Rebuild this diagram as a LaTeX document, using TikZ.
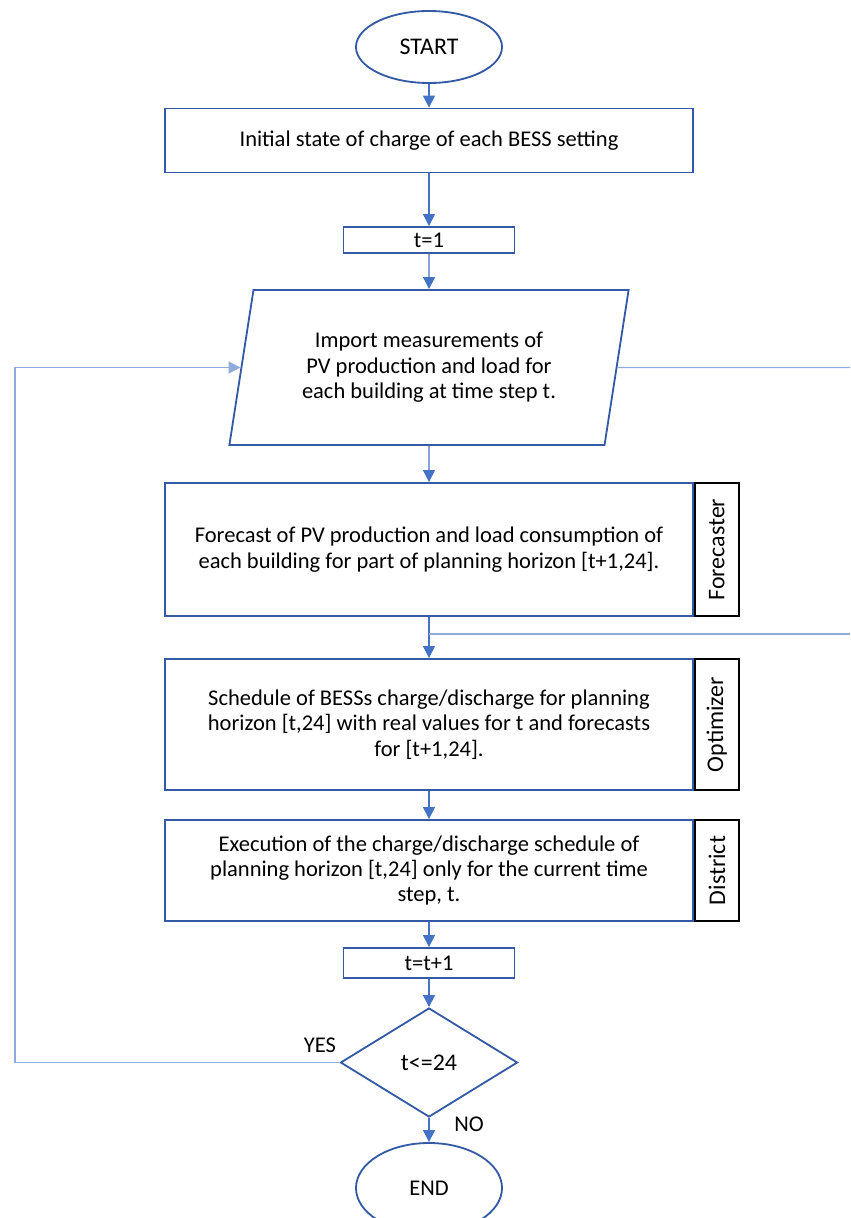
\documentclass[tikz,border=0pt]{standalone}
\usepackage{fontspec}
\setmainfont{Carlito}
\usetikzlibrary{shapes.geometric,arrows.meta}

\definecolor{shapeblue}{RGB}{52,90,165}
\definecolor{linkblue}{RGB}{68,114,196}
\definecolor{loopblue}{RGB}{143,170,220}

\begin{document}
\begin{tikzpicture}[
x=0.025cm, y=-0.025cm,
font=\fontsize{16}{18}\selectfont,
terminal/.style={ellipse, draw=shapeblue, line width=1.3pt, minimum width=3.65cm, minimum height=1.8cm, inner sep=0pt, font=\fontsize{17}{19}\selectfont},
process/.style={rectangle, draw=shapeblue, line width=1.3pt, minimum width=13.2cm, inner sep=0pt, align=center},
counter/.style={rectangle, draw=shapeblue, line width=1.3pt, minimum width=4.275cm, inner sep=0pt},
iobox/.style={trapezium, trapezium left angle=76, trapezium right angle=104, trapezium stretches=true, draw=shapeblue, line width=1.3pt, minimum width=9.98cm, minimum height=3.875cm, inner sep=0pt, align=center},
decision/.style={diamond, draw=shapeblue, line width=1.3pt, minimum width=4.425cm, minimum height=2.725cm, inner sep=0pt, font=\fontsize{17}{19}\selectfont},
tag/.style={rectangle, draw=black, line width=1.3pt, rotate=90, inner sep=0pt, minimum width=#1, minimum height=1.1cm, font=\fontsize{17}{19}\selectfont},
link/.style={draw=linkblue, line width=0.9pt, -{Triangle[length=8.5pt,width=8.5pt]}},
back/.style={draw=loopblue, line width=0.9pt},
info/.style={draw=none, fill=none, inner sep=0pt}]

%% bounding box of the whole figure
\useasboundingbox (0,0) rectangle (850,1218);

%% main column of the chart
\node[terminal] (start) at (429,47) {START};
\node[process, minimum height=1.6cm] (init) at (429,140.5) {Initial state of charge of each BESS setting};
\node[counter, minimum height=0.65cm] (t1) at (429,240) {t=1};
\node[iobox] (import) at (429,367.5) {Import measurements of\\PV production and load for\\each building at time step t.};
\node[process, minimum height=3.325cm] (forecast) at (429,549.5) {Forecast of PV production and load consumption of\\each building for part of planning horizon [t+1,24].};
\node[process, minimum height=3.275cm] (optim) at (429,724.5) {Schedule of BESSs charge/discharge for planning\\horizon [t,24] with real values for t and forecasts\\for [t+1,24].};
\node[process, minimum height=2.525cm] (district) at (429,870.5) {Execution of the charge/discharge schedule of\\planning horizon [t,24] only for the current time\\step, t.};
\node[counter, minimum height=0.75cm] (tnext) at (429,963) {t=t+1};
\node[decision] (test) at (429,1062.5) {t<=24};
\node[terminal, minimum height=2.25cm, font=\fontsize{16}{18}\selectfont] (end) at (429,1188) {END};

%% block labels at the right side
\node[tag=3.325cm, anchor=north] (fcTag) at (forecast.east) {Forecaster};
\node[tag=3.275cm, anchor=north] (opTag) at (optim.east) {Optimizer};
\node[tag=2.525cm, anchor=north] (diTag) at (district.east) {District};

%% branch labels
\node[info] (yes) at (320,1045) {YES};
\node[info] (no) at (469,1124) {NO};

%% free ends of the feedback lines
\coordinate (lft) at (15,1062.5);
\coordinate (rgtA) at (850,367.5);
\coordinate (split) at (forecast.south |- 0,634);
\coordinate (rgtB) at (850,634);

%% arrows down the column
\draw[link] (start) -- (init);
\draw[link] (init) -- (t1);
\draw[link] (t1) -- (import);
\draw[link] (import) -- (forecast);
\draw[link] (forecast) -- (optim);
\draw[link] (optim) -- (district);
\draw[link] (district) -- (tnext);
\draw[link] (tnext) -- (test);
\draw[link] (test) -- (end);

%% loop back and side lines
\draw[back, -{Triangle[length=8.5pt,width=8.5pt]}] (test.west) -- (lft) |- (import.west);
\draw[back] (import.east) -- (rgtA);
\draw[back] (split) -- (rgtB);

\end{tikzpicture}
\end{document}
